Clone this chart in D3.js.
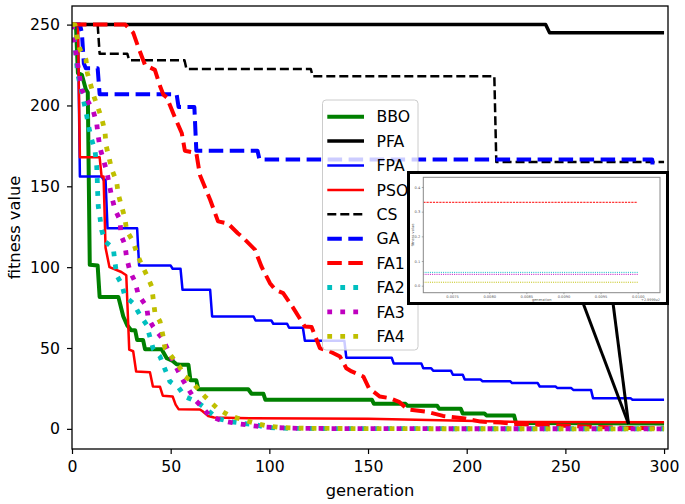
<!DOCTYPE html>
<html><head><meta charset="utf-8">
<script src="https://cdn.jsdelivr.net/npm/d3@7"></script>
<style>body{margin:0;background:#fff}svg{display:block}text{font-family:"DejaVu Sans",sans-serif}</style>
</head><body><svg id="c" width="685" height="504"></svg>
<script>
// ---------- data ----------
const seriesNames = ["BBO","PFA","FPA","PSO","CS","GA","FA1","FA2","FA3","FA4"];
const xTicks = [0,50,100,150,200,250,300];
const yTicks = [0,50,100,150,200,250];
const insetXTicks = [0.0075,0.0080,0.0085,0.0090,0.0095,0.0100];
const insetYTicks = [0.0,0.1,0.2,0.3,0.4];
const insetOffset = 299.99;

const bbo = [[0,250],[2,250],[3,220],[5,219],[7,210],[8,208],[9,101.5],[13,101],[14,81.6],[23.5,81.5],[26,69.5],[28,64],[30,61],[32,61],[33,55],[36,55],[37,49.3],[45.4,49.3],[48,43.7],[51,42],[53,40],[54.7,39.6],[59,39.6],[60,30],[63,30],[64,24.5],[89.3,24.5],[91,21.7],[97,21.7],[98,18],[152,18],[153,15.5],[169,15.5],[170,14.3],[185,14.3],[186,12.5],[197,12.5],[198,9.5],[209,9.5],[210,8.3],[224,8.3],[225,3.6],[300,3.3]];
const pfa = [[0,250],[240,250],[242,245],[300,245]];
const fpa = [[0,250],[3,250],[4,156],[15,156],[16,154],[17,154],[18,124],[33,124],[34,101],[50,101],[51,99],[55,99],[56,86],[70,86],[71,69.5],[92,69.5],[93,67],[101,67],[102,65],[109,65],[110,62.5],[117,62.5],[118,54.5],[138,54.5],[139,44],[162,44],[163,40.5],[177,40.5],[178,37.5],[182,37.5],[183,36],[192,36],[193,33.5],[198,33.5],[199,30.5],[207,30.5],[208,29.5],[222,29.5],[223,28.3],[236,28.3],[237,26.2],[245,26.2],[246,25.2],[253,25.2],[254,24.1],[263,24.1],[264,19],[283,19],[284,18],[300,18]];
const pso = [[0,250],[3,250],[4,168],[14,168],[15,156],[16,156],[17,112],[19,100],[25,97],[27.5,95],[29,49],[31,48],[32.5,35.5],[39.5,35],[41,26.2],[44.6,26],[46,20.5],[51,20],[52.5,15],[54,12.2],[64.8,12],[66,11],[69,8],[72,7],[90,6.6],[150,6.2],[217,4.5],[230,4.3],[300,4.1]];
const cs = [[0,250],[13,250],[14,232],[28,232],[29,228],[57,228],[58,222.5],[121,222.5],[122,218],[214,218],[215,165],[300,165]];
const ga = [[0,250],[4,250],[5,245],[6,226],[7,223],[13,223],[14,207],[53,207],[54,199],[62,199],[63,172],[94,172],[95,166.5],[294,166.5],[296,120],[300,120]];
const fa1 = [[0,250],[27,250],[31,245],[33.6,236],[37,225],[42,222],[44.6,212],[46.3,206.7],[48,205],[52,193],[55.6,183],[57.2,172],[63,170.6],[64.8,157],[70,141.7],[74,128.3],[79,127],[84,121],[86,119],[92.7,110.8],[96,100.4],[100.3,90.1],[103,86],[107,84],[112,75],[118,63.3],[121.4,63],[125.6,50],[130.7,47.8],[135.8,44.7],[139,37.5],[141.7,35.5],[147.6,32.4],[150.5,25],[156,20],[161,19],[166,16.5],[170,12],[180,10.5],[188,8],[198,6.6],[207,4.5],[217,3.9],[223,3.1],[237,2.5],[260,1.5],[280,0.6],[300,0.338]];
const fa2 = [[0,250],[1.5,237.6],[2.8,220],[4.9,208.7],[7.4,194],[8.6,186],[10,178.8],[11.7,171.6],[12.5,163],[12.8,154],[13,146],[13.3,137.6],[14.2,130.4],[15,123],[16.7,116],[20.9,111.8],[21.8,103],[22.6,95],[25.2,89.5],[26.8,82],[31,77.7],[34.4,70.5],[37.8,64.4],[39.5,56.7],[41.2,49.3],[44.6,44.7],[47.1,36.9],[49.6,29.3],[53.9,25.8],[57.2,20],[63.1,16.9],[68.2,12.2],[73.3,6.6],[80,4.5],[86,3.5],[93.5,2.5],[98.6,0.8],[110,0.3],[150,0.1],[300,0.054]];
const fa3 = [[0,250],[1,240],[4.9,209.8],[10.8,196.4],[12.5,189],[13.3,181],[14.2,173.6],[15.9,166.5],[17.6,159.2],[20.1,143.7],[21.8,135.5],[24.3,129.3],[24.8,120],[26.8,113.9],[27.7,105.6],[29.4,97.3],[31.9,91.1],[33.6,83],[37.8,75.7],[38.6,68.5],[41.2,63],[46.3,55],[50.5,43.7],[55.6,31.4],[59,24.5],[62.3,18],[65.7,13.8],[69.9,8],[75.8,5.1],[82.6,3.5],[88.5,2.5],[95.2,1.4],[102,0.8],[115,0.3],[150,0.1],[300,0.046]];
const fa4 = [[0,250],[1.5,250],[2.4,242.8],[4.1,234.5],[7.1,228.3],[7.8,220],[11.1,205.6],[15,192.3],[16.7,184],[17.2,175.7],[20.1,160.7],[22.6,153],[23.5,144.8],[26.8,130.4],[27.7,122.5],[31,115.9],[32.8,108.7],[35.3,101.5],[37.8,95.3],[40.4,88],[41.2,79.8],[42,72],[44.6,66.4],[46,58.2],[47.1,49.9],[50.5,44.7],[54.4,38.5],[57.2,32.4],[60.6,29.3],[65.7,22],[69.9,16.9],[74.1,12.2],[80,8],[86.8,5.6],[92.7,3.5],[98.6,1.9],[105.4,0.8],[120,0.3],[160,0.1],[300,0.014]];
const calloutTarget = [282, 3];

// ---------- styles ----------
const seriesData = [bbo,pfa,fpa,pso,cs,ga,fa1,fa2,fa3,fa4];
const styles = [
  {c:"#008000", w:4, d:null},
  {c:"#000000", w:3.5, d:null},
  {c:"#0000ff", w:2.5, d:null},
  {c:"#ff0000", w:2.5, d:null},
  {c:"#000000", w:2.5, d:"9,4"},
  {c:"#0000ff", w:4, d:"14.5,6.5"},
  {c:"#ff0000", w:4, d:"14.5,6.5"},
  {c:"#00bfbf", w:4.8, d:"4.8,8.2"},
  {c:"#bf00bf", w:4.8, d:"4.8,8.2"},
  {c:"#bfbf00", w:4.8, d:"4.8,8.2"}
];

const svg = d3.select("#c");
const L=72, R=668, T=6, B=449;
const x = d3.scaleLinear().domain([0,302]).range([L,R]);
const y = d3.scaleLinear().domain([-12.45,261.5]).range([B,T]);

svg.append("defs").append("clipPath").attr("id","clipMain")
  .append("rect").attr("x",L).attr("y",T).attr("width",R-L).attr("height",B-T);

const line = d3.line().x(d=>x(d[0])).y(d=>y(d[1]));
const gLines = svg.append("g").attr("clip-path","url(#clipMain)");
seriesData.forEach((data,i)=>{
  const s = styles[i];
  gLines.append("path").attr("d",line(data)).attr("fill","none")
    .attr("stroke",s.c).attr("stroke-width",s.w)
    .attr("stroke-dasharray",s.d).attr("stroke-linejoin","round");
});

// axes
const fs = "15.7px";
const xAxis = svg.append("g").attr("transform",`translate(0,${B})`)
  .call(d3.axisBottom(x).tickValues(xTicks).tickSize(5).tickPadding(7).tickSizeOuter(0));
const yAxis = svg.append("g").attr("transform",`translate(${L},0)`)
  .call(d3.axisLeft(y).tickValues(yTicks).tickSize(5).tickPadding(7).tickSizeOuter(0));
[xAxis,yAxis].forEach(g=>{
  g.select(".domain").remove();
  g.selectAll("line").attr("stroke","#000").attr("stroke-width",1.2);
  g.selectAll("text").attr("font-size",fs).attr("fill","#000").attr("font-family","DejaVu Sans");
});
svg.append("rect").attr("x",L).attr("y",T).attr("width",R-L).attr("height",B-T)
  .attr("fill","none").attr("stroke","#000").attr("stroke-width",1.3);

svg.append("text").attr("x",(L+R)/2).attr("y",496).attr("text-anchor","middle")
  .attr("font-size","16.3px").text("generation");
svg.append("text").attr("transform",`translate(20,${(T+B)/2}) rotate(-90)`)
  .attr("text-anchor","middle").attr("font-size","16.3px").text("fitness value");

// legend
const lg = svg.append("g");
lg.append("rect").attr("x",322.5).attr("y",100).attr("width",95.5).attr("height",250)
  .attr("rx",3.5).attr("fill","#fff").attr("fill-opacity",0.8).attr("stroke","#cccccc").attr("stroke-width",1);
seriesNames.forEach((n,i)=>{
  const yy = 116.7 + i*24.4, s = styles[i];
  lg.append("line").attr("x1",327.3).attr("x2",364).attr("y1",yy).attr("y2",yy)
    .attr("stroke",s.c).attr("stroke-width",s.w).attr("stroke-dasharray",s.d);
  lg.append("text").attr("x",376.5).attr("y",yy).attr("dy","0.36em")
    .attr("font-size",fs).text(n);
});

// callout lines
const tx = x(calloutTarget[0]), ty = y(calloutTarget[1]);
[583,613].forEach(sx=>{
  svg.append("line").attr("x1",sx).attr("y1",303).attr("x2",tx).attr("y2",ty)
    .attr("stroke","#000").attr("stroke-width",3);
});

// inset
const ins = svg.append("g");
ins.append("rect").attr("x",408.5).attr("y",172.5).attr("width",259).attr("height",131)
  .attr("fill","#fff").attr("stroke","#000").attr("stroke-width",3);
const iL=423.3, iR=660, iT=177.3, iB=292.7;
const ix = d3.scaleLinear().domain([insetOffset+0.007113, insetOffset+0.0103]).range([iL,iR]);
const iy = d3.scaleLinear().domain([-0.0284,0.4393]).range([iB,iT]);
ins.append("defs").append("clipPath").attr("id","clipInset")
  .append("rect").attr("x",iL).attr("y",iT).attr("width",iR-iL).attr("height",iB-iT);
const insetStyles = [
  {c:"#ff0000", d:"2.2,1"},
  {c:"#00bfbf", d:"1,1.2"},
  {c:"#bf00bf", d:"1,1.2"},
  {c:"#bfbf00", d:"1,1.2"}
];
const x0 = ix.domain()[0];
function valAt(data, g){
  const i = d3.bisector(d=>d[0]).left(data, g);
  if(i<=0) return data[0][1];
  if(i>=data.length) return data[data.length-1][1];
  const a=data[i-1], b=data[i];
  return a[1] + (b[1]-a[1])*(g-a[0])/(b[0]-a[0]);
}
const iLine = d3.line().x(d=>ix(d[0])).y(d=>iy(d[1]));
const gIns = ins.append("g").attr("clip-path","url(#clipInset)");
[fa1,fa2,fa3,fa4].forEach((data,i)=>{
  const last = data[data.length-1];
  const pts = [[x0, valAt(data,x0)], last];
  gIns.append("path").attr("d",iLine(pts)).attr("fill","none")
    .attr("stroke",insetStyles[i].c).attr("stroke-width",1).attr("stroke-dasharray",insetStyles[i].d);
});
ins.append("rect").attr("x",iL).attr("y",iT).attr("width",iR-iL).attr("height",iB-iT)
  .attr("fill","none").attr("stroke","#888").attr("stroke-width",1);
const ixAxis = ins.append("g").attr("transform",`translate(0,${iB})`)
  .call(d3.axisBottom(ix).tickValues(insetXTicks.map(v=>v+insetOffset)).tickSize(1.5).tickPadding(1)
    .tickFormat((d,i)=>insetXTicks[i].toFixed(4)).tickSizeOuter(0));
const iyAxis = ins.append("g").attr("transform",`translate(${iL},0)`)
  .call(d3.axisLeft(iy).tickValues(insetYTicks).tickSize(1.5).tickPadding(1.5)
    .tickFormat(d3.format(".1f")).tickSizeOuter(0));
[ixAxis,iyAxis].forEach(g=>{
  g.select(".domain").remove();
  g.selectAll("line").attr("stroke","#777").attr("stroke-width",0.6);
  g.selectAll("text").attr("font-size","3.6px").attr("fill","#555");
});
ins.append("text").attr("x",(iL+iR)/2).attr("y",301.3).attr("text-anchor","middle")
  .attr("font-size","3.6px").attr("fill","#555").text("generation");
ins.append("text").attr("x",iR).attr("y",301.3).attr("text-anchor","end")
  .attr("font-size","3.4px").attr("fill","#555").text("+2.9999e2");
ins.append("text").attr("transform",`translate(413.5,${(iT+iB)/2}) rotate(-90)`)
  .attr("text-anchor","middle").attr("font-size","3.6px").attr("fill","#555").text("fitness value");
</script></body></html>
